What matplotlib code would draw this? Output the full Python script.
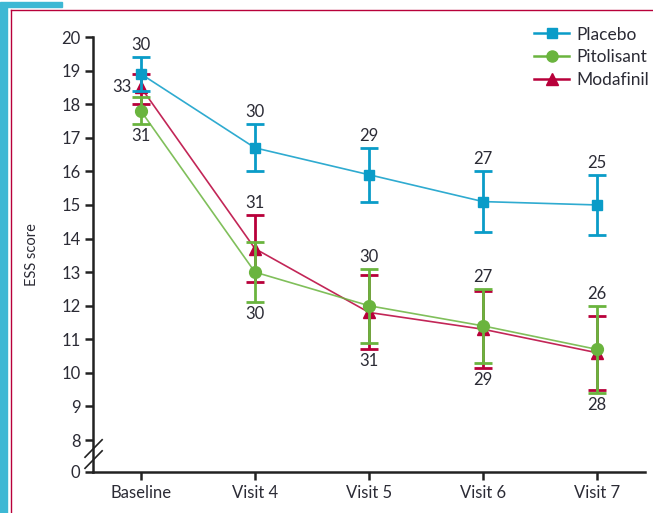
import numpy as np
import matplotlib.pyplot as plt
from matplotlib.lines import Line2D
from matplotlib.patches import Rectangle

plt.rcParams['font.family'] = ['Lato', 'DejaVu Sans']

visits = ['Baseline', 'Visit 4', 'Visit 5', 'Visit 6', 'Visit 7']

placebo = [18.9, 16.7, 15.9, 15.1, 15.0]
placebo_hi = [19.4, 17.4, 16.7, 16.0, 15.9]
placebo_lo = [18.4, 16.0, 15.1, 14.2, 14.1]
placebo_n = [30, 30, 29, 27, 25]

pitolisant = [17.8, 13.0, 12.0, 11.4, 10.7]
pitolisant_hi = [18.2, 13.9, 13.1, 12.5, 12.0]
pitolisant_lo = [17.4, 12.1, 10.9, 10.3, 9.4]
pitolisant_n = [31, 30, 30, 27, 26]

modafinil = [18.5, 13.7, 11.8, 11.3, 10.6]
modafinil_hi = [18.9, 14.7, 12.9, 12.45, 11.7]
modafinil_lo = [18.0, 12.7, 10.7, 10.15, 9.5]
modafinil_n = [33, 31, 31, 29, 28]

c_pla = '#0a9cc8'
c_pit = '#6ab43e'
c_mod = '#b8003a'
teal = '#3db8d4'

Y0 = 7.05  # where the broken axis shows "0"

fig = plt.figure(figsize=(6.53, 5.13), dpi=100)
ax = fig.add_axes([93/653, 1-472/513, (645-93)/653, (472-37)/513])
x = np.arange(len(visits))

def series(y, hi, lo, col, mk, ms, z):
    y = np.array(y); hi = np.array(hi); lo = np.array(lo)
    ax.plot(x, y, '-', color=col, lw=1.2, alpha=0.85, zorder=z)
    ax.errorbar(x, y, yerr=[y-lo, hi-y], fmt='none', ecolor=col, elinewidth=2,
                capsize=6.5, capthick=2, zorder=z+0.5)
    ax.plot(x, y, mk, color=col, ms=ms, lw=0, zorder=z+1)

series(modafinil, modafinil_hi, modafinil_lo, c_mod, '^', 8, 3)
series(pitolisant, pitolisant_hi, pitolisant_lo, c_pit, 'o', 8.5, 4)
series(placebo, placebo_hi, placebo_lo, c_pla, 's', 7.5, 5)

fs = 12
tc = '#2b2b35'
# n labels
for i, n in enumerate(placebo_n):
    ax.text(i, placebo_hi[i] + 0.12, str(n), ha='center', va='bottom', fontsize=fs, color=tc)
pit_above = [False, False, True, True, True]
for i, n in enumerate(pitolisant_n):
    if pit_above[i]:
        ax.text(i, pitolisant_hi[i] + 0.12, str(n), ha='center', va='bottom', fontsize=fs, color=tc)
    else:
        ax.text(i, pitolisant_lo[i] - 0.12, str(n), ha='center', va='top', fontsize=fs, color=tc)
for i, n in enumerate(modafinil_n):
    if i == 0:
        ax.text(i - 0.08, modafinil[i], str(n), ha='right', va='center', fontsize=fs, color=tc)
    elif i == 1:
        ax.text(i, modafinil_hi[i] + 0.12, str(n), ha='center', va='bottom', fontsize=fs, color=tc)
    else:
        low = min(modafinil_lo[i], pitolisant_lo[i])
        ax.text(i, low - 0.12, str(n), ha='center', va='top', fontsize=fs, color=tc)

ax.set_xlim(-0.42, 4.42)
ax.set_ylim(Y0, 20)
ax.set_xticks(x)
ax.set_xticklabels(visits, fontsize=fs, color=tc)
ax.set_yticks([Y0] + list(range(8, 21)))
ax.set_yticklabels(['0'] + [str(v) for v in range(8, 21)], fontsize=fs, color=tc)
ax.tick_params(length=6, width=1.8, color='#222222', pad=3)
for s in ['top', 'right']:
    ax.spines[s].set_visible(False)
for s in ['left', 'bottom']:
    ax.spines[s].set_linewidth(1.8)
    ax.spines[s].set_color('#222222')
ax.set_ylabel('ESS score', fontsize=10.5, color=tc, labelpad=16)

# axis break marks
for yb in [7.75, 7.42]:
    ax.plot([-0.49, -0.34], [yb - 0.26, yb + 0.26], color='#222222', lw=1.2,
            clip_on=False, zorder=6)

handles = [Line2D([], [], color=c_pla, marker='s', ms=7, lw=1.8),
           Line2D([], [], color=c_pit, marker='o', ms=8, lw=1.8),
           Line2D([], [], color=c_mod, marker='^', ms=8, lw=1.8)]
ax.legend(handles, ['Placebo', 'Pitolisant', 'Modafinil'], loc='upper right',
          bbox_to_anchor=(1.035, 1.06), frameon=False, fontsize=12.5,
          handlelength=2.0, handletextpad=0.4, labelspacing=0.38, labelcolor=tc)

# page decoration
fig.patches.append(Rectangle((0, 0), 7/653, 1-4/513, transform=fig.transFigure, color=teal, zorder=0))
fig.patches.append(Rectangle((0, 1-7/513), 62/653, 5/513, transform=fig.transFigure, color=teal, zorder=0))
fig.lines.append(Line2D([11/653, 11/653], [0, 1-10/513], transform=fig.transFigure, color=c_mod, lw=1))
fig.lines.append(Line2D([11/653, 1], [1-10/513, 1-10/513], transform=fig.transFigure, color=c_mod, lw=1))

fig.savefig('out.png', dpi=100)
